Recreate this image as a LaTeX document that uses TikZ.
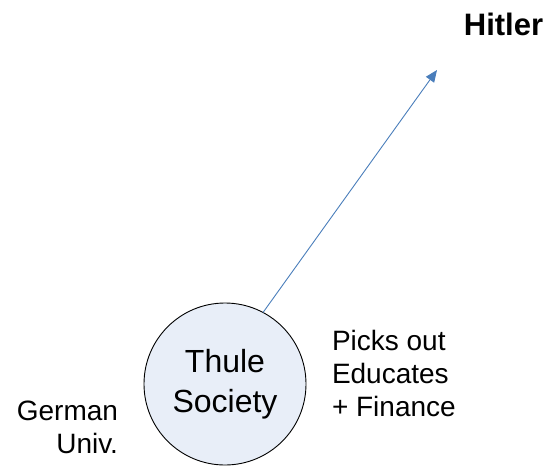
\documentclass[tikz,border=0pt]{standalone}
\usepackage{fontspec}
\setmainfont{Liberation Sans}
\usetikzlibrary{arrows.meta, positioning}
\definecolor{thulefill}{RGB}{232,238,248}
\definecolor{arrowblue}{RGB}{74,126,187}

\begin{document}
\begin{tikzpicture}[x=1pt, y=-1pt, outer sep=0pt, every node/.style={inner sep=0pt, font=\fontsize{28}{33}\selectfont}]
    \useasboundingbox (0,0) rectangle (549,469);
    \node (thule) [draw, circle, line width=0.9pt, fill=thulefill, minimum size=162pt, align=center, font=\fontsize{32}{40}\selectfont] at (225,384) {Thule\\Society};
    \node (hitler) [font=\fontsize{31}{36}\selectfont\bfseries] at (503.5,24) {Hitler};
    \coordinate (target) at (437,70);
    \node (tasks) [anchor=west, align=left] at (332,373) {Picks out\\Educates\\+ Finance};
    \node (univ) [anchor=east, align=right] at (118,427) {German\\Univ.};
    \draw [arrowblue, line width=0.9pt, -{Triangle[length=12pt, width=10pt]}] (thule.62) -- (target);
\end{tikzpicture}
\end{document}
